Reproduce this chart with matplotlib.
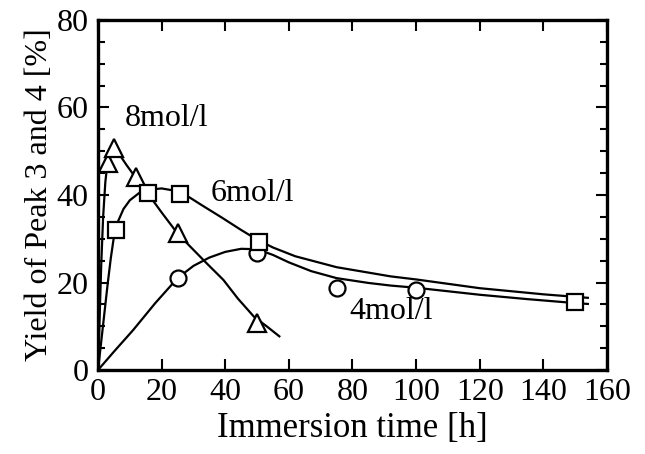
import matplotlib
matplotlib.use("Agg")
import matplotlib.pyplot as plt
from matplotlib.ticker import MultipleLocator

# measured points
t8 = [3, 5, 12, 25, 50]
y8 = [47.3, 50.8, 44.1, 31.3, 10.7]
t6 = [5.5, 15.8, 25.8, 50.7, 150]
y6 = [32.0, 40.5, 40.3, 29.3, 15.5]
t4 = [25, 50, 75, 100]
y4 = [21.0, 26.8, 18.7, 18.3]

# fitted curves
c8_t = [0, 0.5, 1, 1.6, 2.3, 3, 4, 5, 6.5, 9, 12, 16, 20, 25, 29, 34, 39.4, 44, 49, 53, 57]
c8_y = [0, 12, 24, 35, 43, 47.5, 50.3, 51, 49.5, 46.8, 43.8, 40, 36, 31.2, 28.2, 24.5, 20.6, 16.3, 12.2, 10, 7.7]
c6_t = [0, 1, 2, 3, 4, 5, 6, 8, 10, 13, 16, 20, 24, 28, 33, 39, 45, 50, 55, 62, 75, 92, 100, 120, 140, 154]
c6_y = [0, 6.5, 13, 19.5, 25.5, 30.5, 33.5, 36.8, 38.8, 40.5, 41.2, 41.5, 41, 39.8, 37.5, 34.8, 32, 29.8, 28, 26, 23.5, 21.4, 20.7, 18.7, 17.3, 16.5]
c4_t = [0, 5, 11, 18, 25, 30, 35, 40, 45, 50, 55, 60, 67, 75, 85, 92, 100, 110, 120, 135, 150, 154]
c4_y = [0, 4.2, 9.1, 15.3, 21, 23.8, 25.7, 27, 27.7, 27.6, 26.3, 24.6, 22.6, 21, 19.9, 19.3, 18.8, 18, 17.2, 16.2, 15.3, 15.1]

labels = ["8mol/l", "6mol/l", "4mol/l"]
label_xy = [(8.5, 57.5), (35.5, 40.3), (79, 13.3)]

plt.rcParams['font.family'] = ['Liberation Serif', 'DejaVu Serif']

fig = plt.figure(figsize=(6.45, 4.54), dpi=100)
ax = fig.add_axes([0.152, 0.185, 0.789, 0.771])

lw = 1.6
ax.plot(c8_t, c8_y, color='black', lw=lw, zorder=2)
ax.plot(c6_t, c6_y, color='black', lw=lw, zorder=2)
ax.plot(c4_t, c4_y, color='black', lw=lw, zorder=2)

mk = dict(mfc='white', mec='black', mew=1.6, ls='none', color='black')
ax.plot(t4, y4, marker='o', ms=11.5, zorder=3, **mk)
ax.plot(t8, y8, marker='^', ms=13, zorder=4, **mk)
ax.plot(t6, y6, marker='s', ms=11, zorder=5, **mk)

for lab, (lx, ly) in zip(labels, label_xy):
    ax.text(lx, ly, lab, fontsize=23, va='center', ha='left', zorder=6)

ax.set_xlim(0, 160)
ax.set_ylim(0, 80)
ax.xaxis.set_major_locator(MultipleLocator(20))
ax.yaxis.set_major_locator(MultipleLocator(20))
ax.yaxis.set_minor_locator(MultipleLocator(5))
ax.tick_params(which='both', direction='in', top=True, right=True, width=1.5, labelsize=23)
ax.tick_params(axis='x', pad=6)
ax.tick_params(axis='y', pad=7)
ax.tick_params(which='major', length=8)
ax.tick_params(which='minor', length=5)
ax.tick_params(axis='x', which='minor', bottom=False, top=False)
for s in ax.spines.values():
    s.set_linewidth(2.4)

ax.set_xlabel("Immersion time [h]", fontsize=25, labelpad=3)
ax.set_ylabel("Yield of Peak 3 and 4 [%]", fontsize=23, labelpad=2)

fig.savefig("out.png", dpi=100)
